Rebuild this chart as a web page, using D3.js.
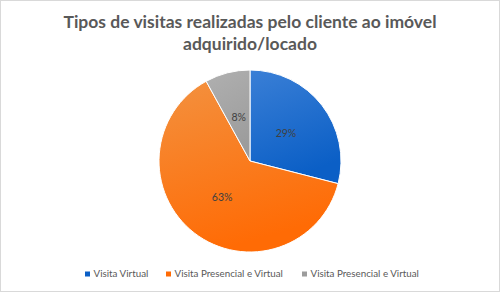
<!DOCTYPE html>
<html>
<head>
<meta charset="utf-8">
<script src="https://cdn.jsdelivr.net/npm/d3@7"></script>
<style>
  body { margin: 0; background: #fff; }
  svg { display: block; font-family: Lato, "Open Sans", sans-serif; }
</style>
</head>
<body>
<div id="chart"></div>
<script>
const categories = ["Visita Virtual", "Visita Presencial e Virtual", "Visita Presencial e Virtual"];
const values = [29, 63, 8];
const titleLines = ["Tipos de visitas realizadas pelo cliente ao imóvel", "adquirido/locado"];

const width = 500, height = 292;
const cx = 250, cy = 161, radius = 91;

// light / dark ends of each slice gradient
const sliceColors = [
  ["#3a7fd6", "#0b5fc6"],
  ["#f3913f", "#ff6b05"],
  ["#b0b0b0", "#9c9c9c"]
];

const svg = d3.select("#chart").append("svg")
  .attr("width", width)
  .attr("height", height);

svg.append("rect")
  .attr("x", 0.5).attr("y", 0.5)
  .attr("width", width - 1).attr("height", height - 1)
  .attr("fill", "#fff")
  .attr("stroke", "#d9d9d9");

const defs = svg.append("defs");
sliceColors.forEach((c, i) => {
  const g = defs.append("linearGradient")
    .attr("id", "grad-" + i)
    .attr("x1", 0).attr("y1", 0).attr("x2", 0.3).attr("y2", 1);
  g.append("stop").attr("offset", "0%").attr("stop-color", c[0]);
  g.append("stop").attr("offset", "100%").attr("stop-color", c[1]);
});

// Title
svg.append("text")
  .attr("text-anchor", "middle")
  .attr("font-size", 17.5)
  .attr("font-weight", "bold")
  .attr("fill", "#595959")
  .selectAll("tspan")
  .data(titleLines)
  .join("tspan")
  .attr("x", width / 2)
  .attr("y", (d, i) => 28 + i * 21.5)
  .text(d => d);

const pie = d3.pie().sort(null).value(d => d);
const arc = d3.arc().innerRadius(0).outerRadius(radius);
const labelArc = d3.arc().innerRadius(radius * 0.5).outerRadius(radius * 0.5);

const g = svg.append("g").attr("transform", `translate(${cx},${cy})`);
const arcs = pie(values);

g.selectAll("path")
  .data(arcs)
  .join("path")
  .attr("d", arc)
  .attr("fill", (d, i) => `url(#grad-${i})`)
  .attr("stroke", "#fff")
  .attr("stroke-width", 1);

g.selectAll("text")
  .data(arcs)
  .join("text")
  .attr("transform", d => `translate(${labelArc.centroid(d)})`)
  .attr("text-anchor", "middle")
  .attr("dy", "0.35em")
  .attr("font-size", 10.5)
  .attr("fill", "#404040")
  .text(d => d.data + "%");

// Legend
const legendX = [85, 166, 302];
const legend = svg.append("g");
categories.forEach((c, i) => {
  const item = legend.append("g").attr("transform", `translate(${legendX[i]},274)`);
  item.append("rect")
    .attr("x", 0).attr("y", -2.5)
    .attr("width", 5).attr("height", 5)
    .attr("fill", sliceColors[i][1]);
  item.append("text")
    .attr("x", 8.5).attr("y", 0)
    .attr("dy", "0.35em")
    .attr("font-size", 9.8)
    .attr("fill", "#595959")
    .text(c);
});
</script>
</body>
</html>
